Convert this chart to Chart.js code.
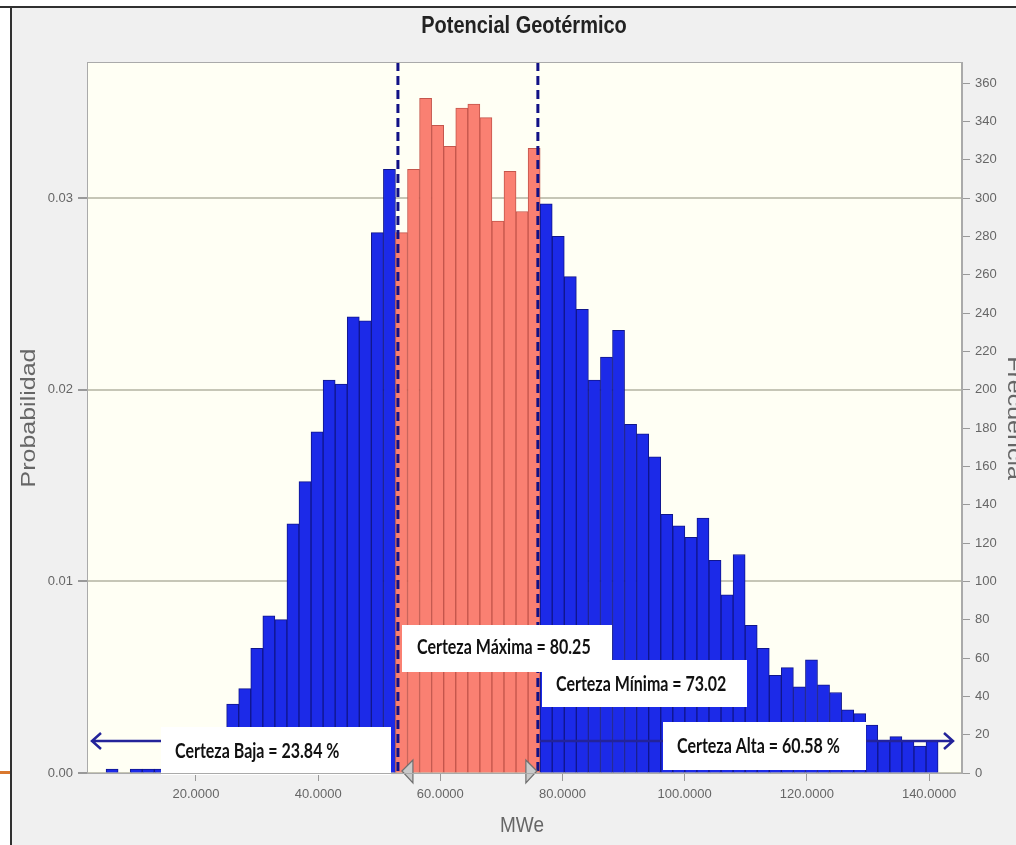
<!DOCTYPE html>
<html>
<head>
<meta charset="utf-8">
<script src="https://cdn.jsdelivr.net/npm/chart.js@4.4.1/dist/chart.umd.min.js"></script>
<style>
  html, body { margin: 0; padding: 0; background: #fff; }
</style>
</head>
<body>
<canvas id="myChart" width="1016" height="845"></canvas>
<script>
// histograma: inicio del primer intervalo y ancho de clase (MWe)
const binStart = 5.28
const binWidth = 1.974
const frecuencias = [
  2, 0, 2, 2, 2, 4, 6, 9, 14, 20,
  36, 44, 65, 82, 80, 130, 152, 178, 205, 203, 238, 236, 282, 315,
  282, 315, 352, 338, 327, 347, 349, 342, 288, 314, 293, 326,
  297, 280, 259, 242, 205, 217, 231, 182, 177, 165, 135, 129, 123, 133,
  111, 93, 114, 77, 65, 51, 55, 45, 59,
  46, 42, 33, 31, 25, 17, 19, 17, 14, 17
]
const ensayos = 10000
const xTicks = [20, 40, 60, 80, 100, 120, 140]
const probTicks = [0, 0.01, 0.02, 0.03]
const freqTicks = [0, 20, 40, 60, 80, 100, 120, 140, 160, 180, 200, 220, 240, 260, 280, 300, 320, 340, 360]
const certeza = [53.06, 75.97]
const etiquetas = ['Certeza Baja = 23.84 %', 'Certeza Máxima = 80.25', 'Certeza Mínima = 73.02', 'Certeza Alta = 60.58 %']

const azul = 'rgb(28, 42, 232)'
const salmon = 'rgb(250, 128, 114)'
const enRango = v => v > certeza[0] && v < certeza[1]

const puntos = frecuencias.map((f, i) => ({ x: binStart + (i + 0.5) * binWidth, y: f }))

// texto estirado en vertical, como en la captura original
function texto(ctx, t, x, y, font, color, rot, stretch, align) {
  ctx.save()
  ctx.translate(x, y)
  ctx.rotate(rot)
  ctx.scale(stretch[0], stretch[1])
  ctx.font = font
  ctx.fillStyle = color
  ctx.textAlign = align || 'center'
  ctx.textBaseline = 'middle'
  ctx.fillText(t, 0, 0)
  ctx.restore()
}

function flecha(ctx, x1, x2, y, dir) {
  ctx.beginPath()
  ctx.moveTo(x1, y); ctx.lineTo(x2, y)
  const hx = dir < 0 ? x1 : x2
  ctx.moveTo(hx - dir * 9, y - 8); ctx.lineTo(hx, y); ctx.lineTo(hx - dir * 9, y + 8)
  ctx.stroke()
}

const decoracion = {
  id: 'decoracion',
  beforeDraw(chart) {
    const { ctx, chartArea: a, width, height } = chart
    ctx.save()
    ctx.fillStyle = '#f0f0f0'
    ctx.fillRect(0, 0, width, height)
    ctx.fillStyle = '#ffffff'
    ctx.fillRect(0, 0, width, 6)
    ctx.fillRect(0, 0, 10, height)
    ctx.fillStyle = '#303030'
    ctx.fillRect(0, 6, width, 2)
    ctx.fillRect(10, 6, 2, height)
    ctx.fillStyle = '#d9782f'
    ctx.fillRect(0, 771, 10, 3)
    ctx.fillStyle = '#fffff4'
    ctx.fillRect(a.left, a.top, a.right - a.left, a.bottom - a.top)
    ctx.restore()
  },
  afterDatasetsDraw(chart) {
    const { ctx, chartArea: a, scales } = chart
    const xs = certeza.map(v => scales.x.getPixelForValue(v))
    ctx.save()
    // flechas de certeza
    ctx.strokeStyle = '#23239a'
    ctx.lineWidth = 2.5
    flecha(ctx, 92, 170, 741, -1)
    flecha(ctx, xs[1] + 2, 953, 741, 1)
    // lineas de certeza
    ctx.strokeStyle = '#111186'
    ctx.lineWidth = 3
    ctx.setLineDash([9, 5])
    xs.forEach(x => {
      ctx.beginPath(); ctx.moveTo(x, a.top); ctx.lineTo(x, a.bottom); ctx.stroke()
    })
    ctx.setLineDash([])
    // marcadores triangulares
    ctx.fillStyle = '#c9c9c9'
    ctx.strokeStyle = '#707070'
    ctx.lineWidth = 1.2
    ;[[xs[0] + 15, -1], [xs[1] - 12, 1]].forEach(([x, d]) => {
      ctx.beginPath()
      ctx.moveTo(x + d * 11, 771)
      ctx.lineTo(x, 760)
      ctx.lineTo(x, 783)
      ctx.closePath()
      ctx.fill(); ctx.stroke()
    })
    // cajas de texto
    const cajas = [
      [161, 727, 230, 48, 175, 752],
      [402, 625, 210, 47, 417, 648],
      [542, 660, 205, 47, 556, 685],
      [663, 722, 203, 48, 677, 747]
    ]
    cajas.forEach((c, i) => {
      ctx.fillStyle = '#ffffff'
      ctx.fillRect(c[0], c[1], c[2], c[3])
      texto(ctx, etiquetas[i], c[4], c[5], 'bold 16px Lato', '#111', 0, [1, 1.25], 'left')
    })
    ctx.restore()
  },
  afterDraw(chart) {
    const { ctx, chartArea: a } = chart
    ctx.save()
    ctx.strokeStyle = '#aaaaaa'
    ctx.lineWidth = 1
    ctx.strokeRect(a.left + 0.5, a.top + 0.5, a.right - a.left - 1, a.bottom - a.top)
    ctx.restore()
    texto(ctx, 'Potencial Geotérmico', 524, 26, 'bold 20px "Liberation Sans"', '#222', 0, [1, 1.2])
    texto(ctx, 'Probabilidad', 29, 418, '20px "Liberation Sans"', '#666', -Math.PI / 2, [1.25, 1])
    texto(ctx, 'Frecuencia', 1014, 418, '20px "Liberation Sans"', '#666', Math.PI / 2, [1.25, 1])
    texto(ctx, 'MWe', 522, 826, '19px "Liberation Sans"', '#666', 0, [1, 1.15])
  }
}

const ctx = document.getElementById('myChart').getContext('2d')
const myChart = new Chart(ctx, {
  type: 'bar',
  data: {
    datasets: [{
      label: 'Frecuencia',
      data: puntos,
      yAxisID: 'yF',
      barPercentage: 1,
      categoryPercentage: 1,
      borderWidth: 1,
      backgroundColor: c => enRango(c.raw.x) ? salmon : azul,
      borderColor: c => enRango(c.raw.x) ? 'rgb(196, 86, 76)' : 'rgb(16, 22, 140)'
    }]
  },
  plugins: [decoracion],
  options: {
    responsive: false,
    animation: false,
    devicePixelRatio: 1,
    layout: { padding: { top: 62, left: 0, right: 0, bottom: 0 } },
    plugins: {
      legend: { display: false },
      tooltip: { enabled: false }
    },
    scales: {
      x: {
        type: 'linear',
        offset: false,
        min: 2.16,
        max: 145.4,
        afterBuildTicks: s => { s.ticks = xTicks.map(v => ({ value: v })) },
        afterFit: s => { s.height = 72 },
        ticks: {
          callback: v => v.toFixed(4),
          color: '#666',
          font: { family: 'Liberation Sans', size: 13 },
          maxRotation: 0,
          padding: 6
        },
        grid: { offset: false, drawOnChartArea: false, tickLength: 8, color: '#999' },
        border: { color: '#aaa' }
      },
      yP: {
        position: 'left',
        min: 0,
        max: 371 / ensayos,
        afterBuildTicks: s => { s.ticks = probTicks.map(v => ({ value: v })) },
        afterFit: s => { s.width = 87 },
        ticks: {
          callback: v => v.toFixed(2),
          color: '#666',
          font: { family: 'Liberation Sans', size: 13 },
          padding: 5
        },
        grid: { color: '#c6c6b6', lineWidth: 2, tickLength: 9, tickColor: '#999' },
        border: { color: '#aaa' }
      },
      yF: {
        position: 'right',
        min: 0,
        max: 371,
        afterBuildTicks: s => { s.ticks = freqTicks.map(v => ({ value: v })) },
        afterFit: s => { s.width = 54 },
        ticks: {
          color: '#666',
          font: { family: 'Liberation Sans', size: 13 },
          padding: 5
        },
        grid: { drawOnChartArea: false, tickLength: 8, color: '#999' },
        border: { color: '#aaa' }
      }
    }
  }
})
</script>
</body>
</html>
